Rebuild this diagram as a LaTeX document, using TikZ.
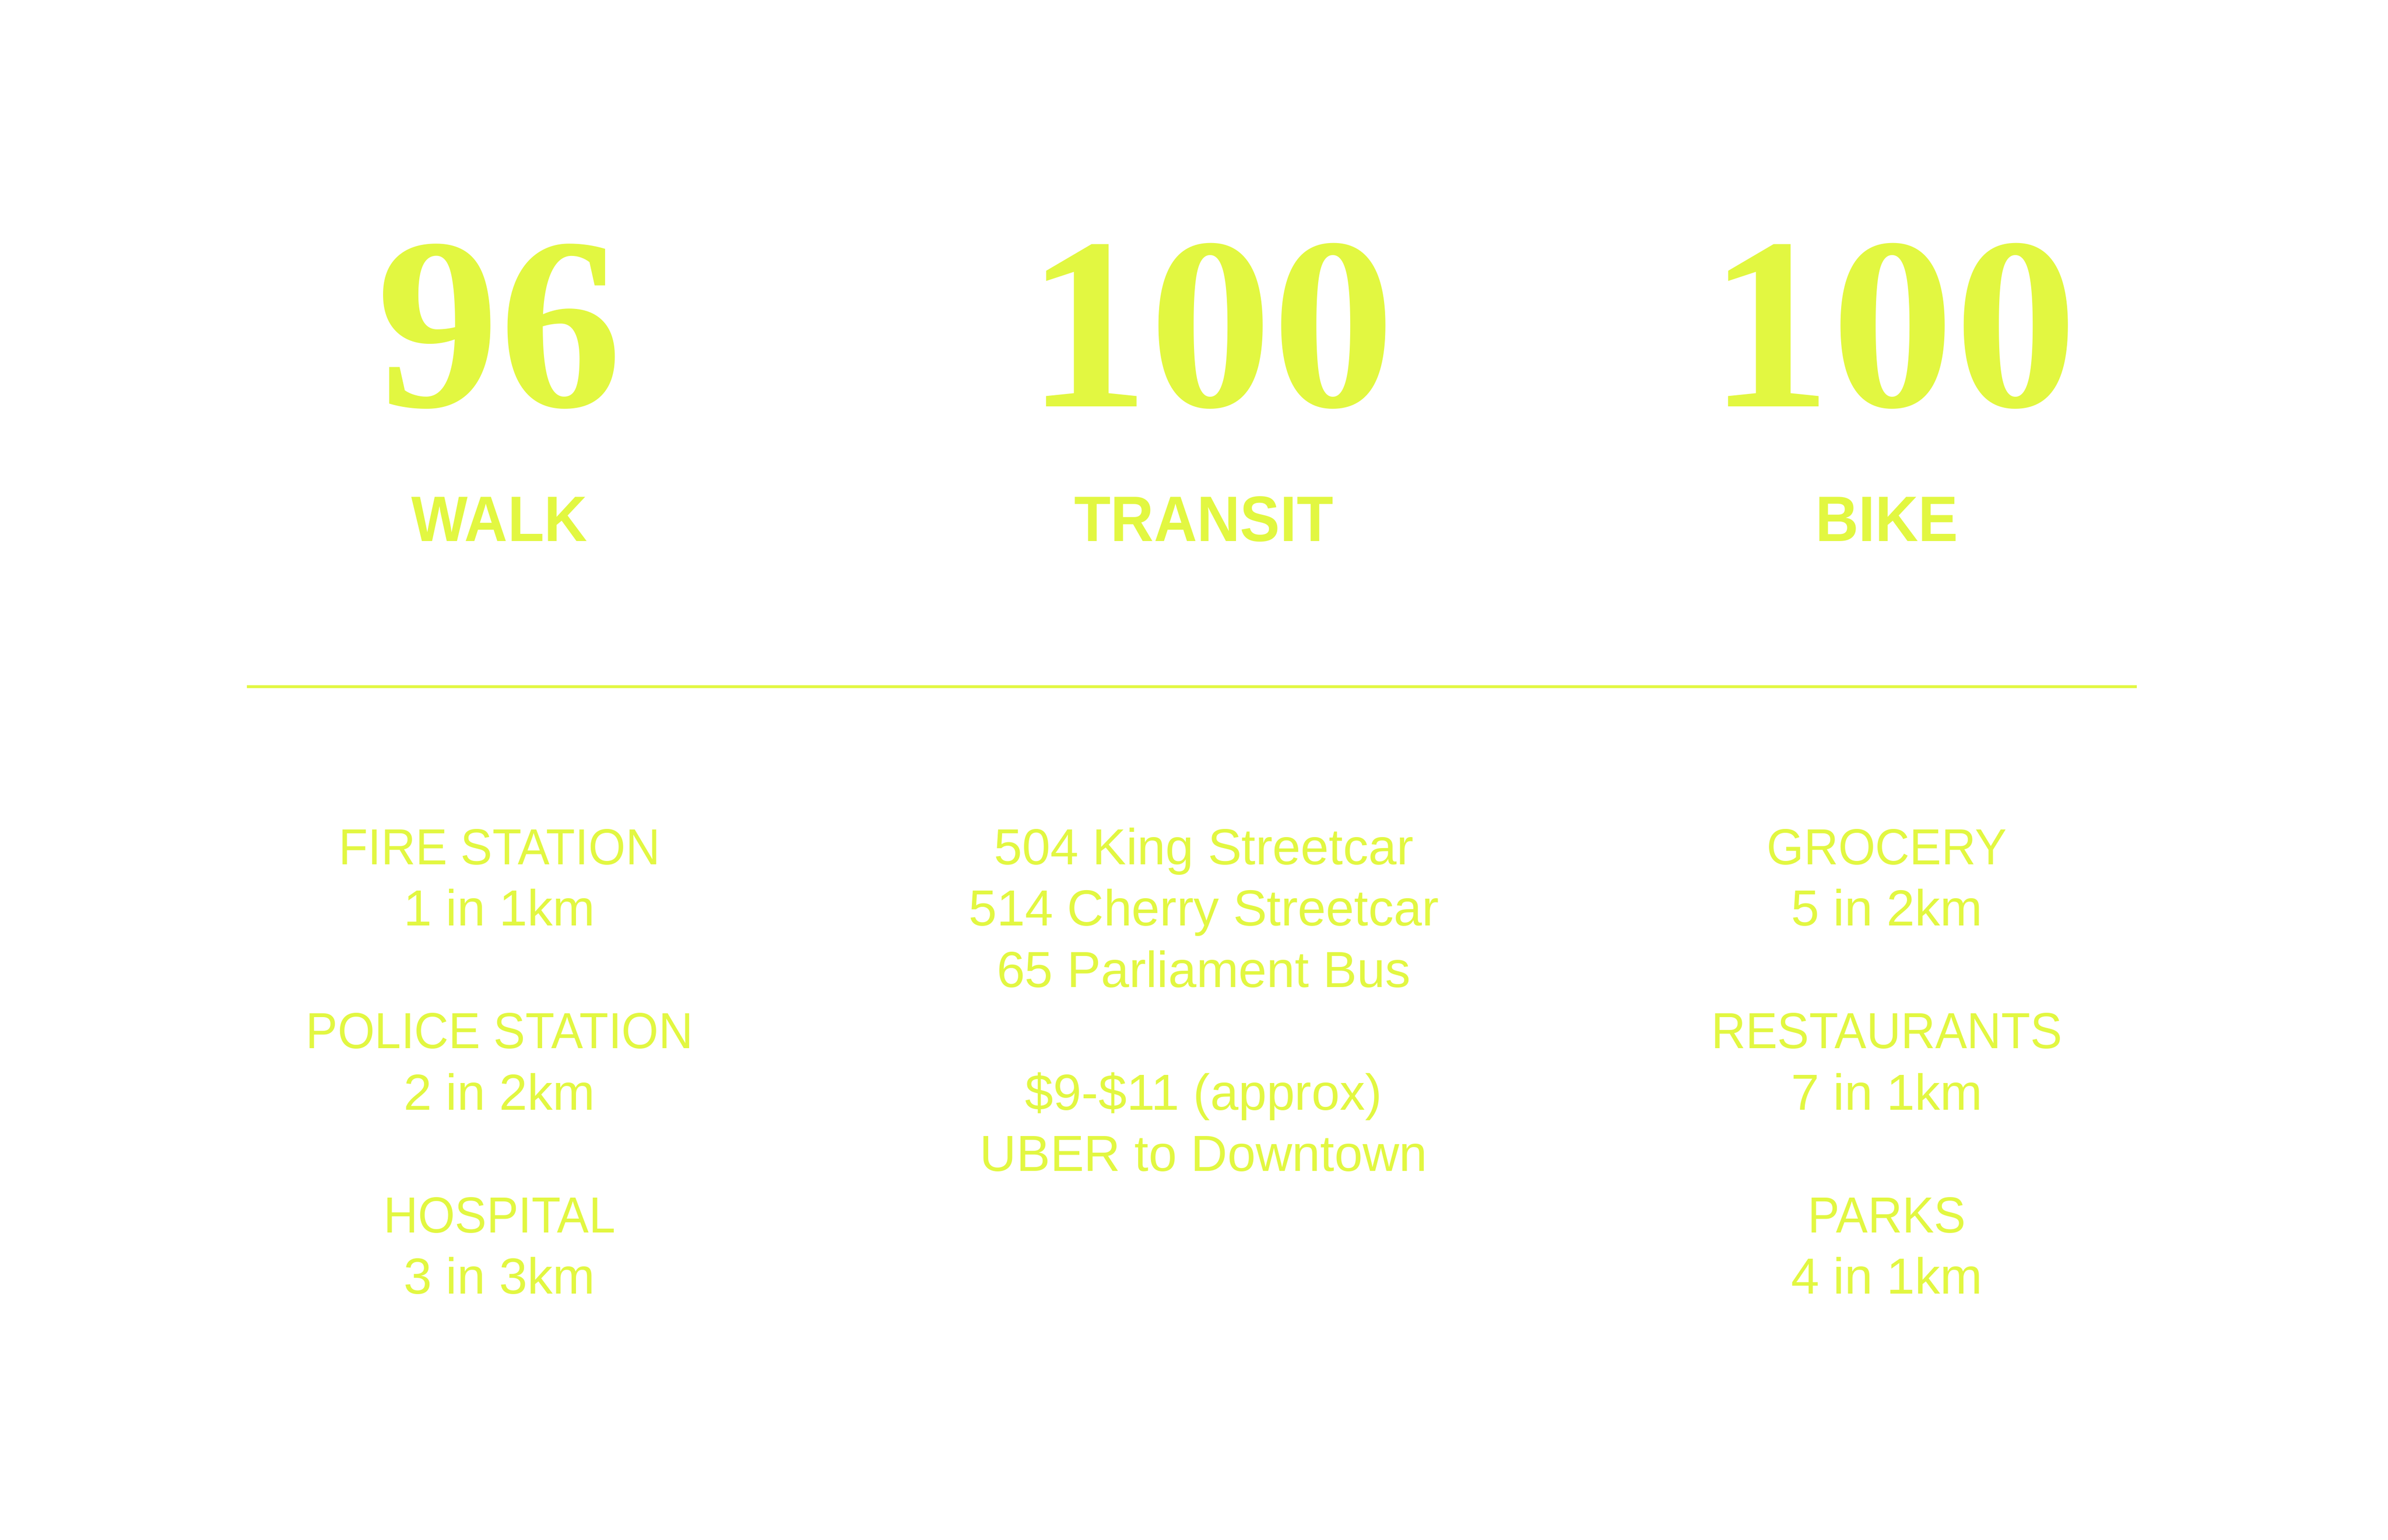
\documentclass[tikz,border=0pt]{standalone}
\usepackage{fontspec}
\usepackage{tikz}
\newfontfamily\labelfont{Liberation Sans}[FakeStretch=0.93]
\newfontfamily\capsfont{Liberation Sans}[FakeStretch=0.94]
\newfontfamily\infofont{Liberation Sans}
\newfontfamily\scorefont{Liberation Serif}
\definecolor{accent}{RGB}{226,247,65}
\newcommand{\infosize}{\fontsize{9.46}{11.5}\selectfont}

\begin{document}
\begin{tikzpicture}[x=0.01cm,y=-0.01cm,
  score/.style={anchor=base,inner sep=0,text=accent,font=\scorefont\bfseries\fontsize{45.9}{46}\selectfont},
  mode/.style={anchor=base,inner sep=0,text=accent,font=\labelfont\bfseries\fontsize{12}{14}\selectfont},
  info/.style={anchor=base,inner sep=0,text=accent,font=\infofont\infosize},
  infocaps/.style={info,font=\capsfont\infosize}]
\useasboundingbox (0,0) rectangle (1568,1011.1);
%scores
\node[score] (walkscore) at (328,267) {96};
\node[score] (transitscore) at (795,267) {100};
\node[score] (bikescore) at (1243,267) {100};
\node[mode] (walk) at (328,355.3) {WALK};
\node[mode] (transit) at (790.4,355.3) {TRANSIT};
\node[mode] (bike) at (1239,355.3) {BIKE};
%divider
\coordinate (divleft) at (162,451);
\coordinate (divright) at (1403,451);
\draw[accent,line width=0.5pt] (divleft) -- (divright);
%walk column
\node[infocaps] (walk1) at (328,567.7) {FIRE STATION};
\node[info] (walk2) at (328,608.0) {1 in 1km};
\node[infocaps] (walk4) at (328,688.6) {POLICE STATION};
\node[info] (walk5) at (328,728.9) {2 in 2km};
\node[infocaps] (walk7) at (328,809.5) {HOSPITAL};
\node[info] (walk8) at (328,849.8) {3 in 3km};
%transit column
\node[info] (transit1) at (790.4,567.7) {504 King Streetcar};
\node[info] (transit2) at (790.4,608.0) {514 Cherry Streetcar};
\node[info] (transit3) at (790.4,648.3) {65 Parliament Bus};
\node[info] (transit5) at (790.4,728.9) {\$9-\$11 (approx)};
\node[info] (transit6) at (790.4,769.2) {UBER to Downtown};
%bike column
\node[infocaps] (bike1) at (1239,567.7) {GROCERY};
\node[info] (bike2) at (1239,608.0) {5 in 2km};
\node[infocaps] (bike4) at (1239,688.6) {RESTAURANTS};
\node[info] (bike5) at (1239,728.9) {7 in 1km};
\node[infocaps] (bike7) at (1239,809.5) {PARKS};
\node[info] (bike8) at (1239,849.8) {4 in 1km};
\end{tikzpicture}
\end{document}
